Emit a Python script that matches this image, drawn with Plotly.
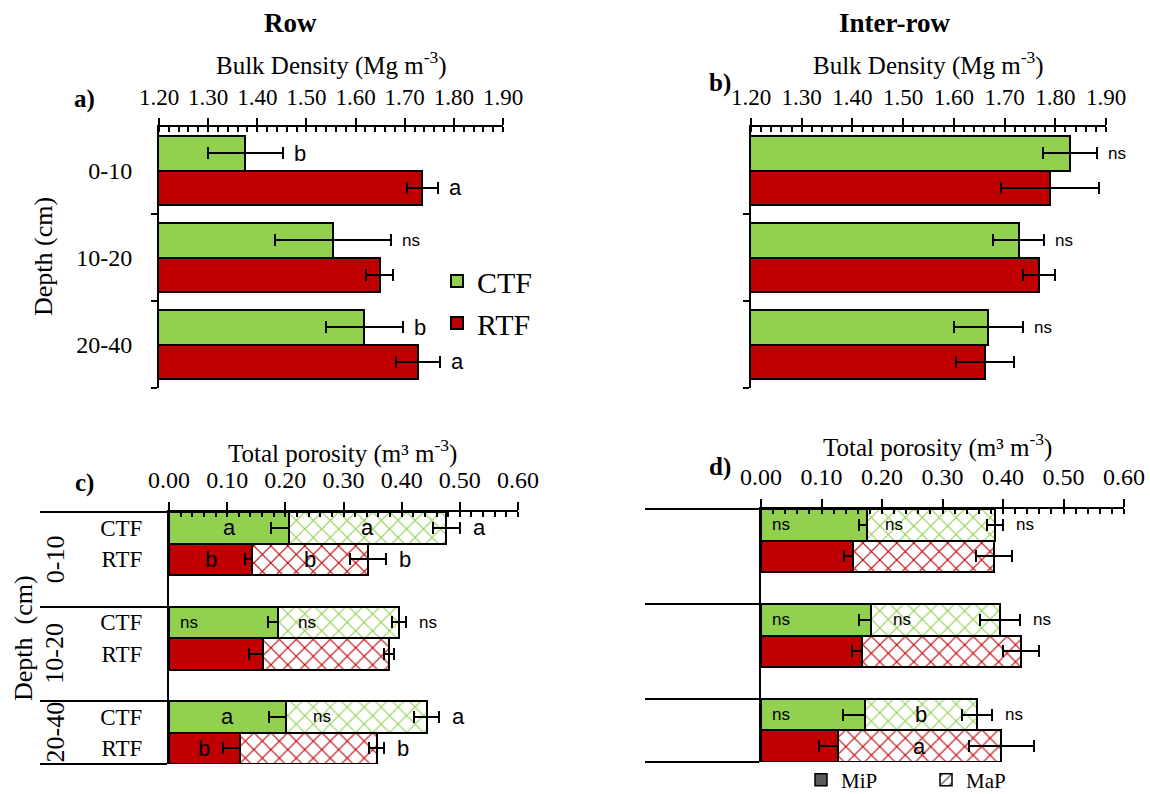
import plotly.graph_objects as go

W, H = 1150, 794
SERIF = "Liberation Serif"
SANS = "Liberation Sans"
GREEN = "#92D050"
RED = "#C00000"

depths = ["0-10", "10-20", "20-40"]
systems = ["CTF", "RTF"]

# Bulk density (Mg m-3), row position
bd_row_ctf = [1.376, 1.555, 1.618]
bd_row_ctf_err = [0.077, 0.118, 0.079]
bd_row_rtf = [1.736, 1.649, 1.727]
bd_row_rtf_err = [0.032, 0.028, 0.044]
bd_row_ctf_lbl = ["b", "ns", "b"]
bd_row_rtf_lbl = ["a", "", "a"]

# Bulk density (Mg m-3), inter-row position
bd_int_ctf = [1.829, 1.728, 1.668]
bd_int_ctf_err = [0.054, 0.050, 0.068]
bd_int_rtf = [1.789, 1.768, 1.661]
bd_int_rtf_err = [0.097, 0.031, 0.057]
bd_int_ctf_lbl = ["ns", "ns", "ns"]
bd_int_rtf_lbl = ["", "", ""]

# Porosity (m3 m-3), row position: micropores (MiP) and macropores (MaP)
tp_row_ctf_mip = [0.207, 0.188, 0.201]
tp_row_ctf_mip_err = [0.031, 0.017, 0.029]
tp_row_ctf_map = [0.270, 0.207, 0.242]
tp_row_ctf_tot_err = [0.024, 0.012, 0.022]
tp_row_rtf_mip = [0.143, 0.161, 0.122]
tp_row_rtf_mip_err = [0.013, 0.023, 0.029]
tp_row_rtf_map = [0.199, 0.217, 0.235]
tp_row_rtf_tot_err = [0.031, 0.009, 0.013]
tp_row_ctf_lbl = (["a", "ns", "a"], ["a", "ns", "ns"], ["a", "ns", "a"])
tp_row_rtf_lbl = (["b", "", "b"], ["b", "", ""], ["b", "", "b"])

# Porosity (m3 m-3), inter-row position
tp_int_ctf_mip = [0.175, 0.182, 0.172]
tp_int_ctf_mip_err = [0.013, 0.020, 0.036]
tp_int_ctf_map = [0.212, 0.213, 0.185]
tp_int_ctf_tot_err = [0.013, 0.033, 0.024]
tp_int_rtf_mip = [0.152, 0.167, 0.127]
tp_int_rtf_mip_err = [0.015, 0.017, 0.031]
tp_int_rtf_map = [0.233, 0.263, 0.270]
tp_int_rtf_tot_err = [0.030, 0.030, 0.054]
tp_int_ctf_lbl = (["ns", "ns", "ns"], ["ns", "ns", "b"], ["ns", "ns", "ns"])
tp_int_rtf_lbl = (["", "", ""], ["", "", "a"], ["", "", ""])


def px(x):
    return x / W


def py(y):
    return 1 - y / H


# bar slots: bulk density panels use one unit per depth, porosity panels
# use three units per depth (two bars plus a gap; last group without gap)
bd_pos = {"CTF": [k - 0.2 for k in range(3)], "RTF": [k + 0.2 for k in range(3)]}
tp_bounds = [0, 3, 6, 8]
tp_pos = {"CTF": [3 * k + 0.5 for k in range(3)], "RTF": [3 * k + 1.5 for k in range(3)]}

fig = go.Figure()
ann = []


def err(arr):
    return dict(type="data", array=arr, color="black", thickness=2, width=6)


def letter(text, x, y, xr, yr, anchor="left", shift=0):
    if not text:
        return
    size = 17 if text == "ns" else 22
    ann.append(dict(text=text, x=x, y=y, xref=xr, yref=yr, xanchor=anchor,
                    yanchor="middle", xshift=shift, showarrow=False,
                    font=dict(family=SANS, size=size, color="black")))


def bd_panel(ax, ctf, ctf_e, rtf, rtf_e, ctf_l, rtf_l, legend):
    xa, ya = ("x", "y") if ax == 1 else (f"x{ax}", f"y{ax}")
    for name, vals, errs, lbls, col in (("CTF", ctf, ctf_e, ctf_l, GREEN),
                                        ("RTF", rtf, rtf_e, rtf_l, RED)):
        fig.add_trace(go.Bar(
            x=vals, y=bd_pos[name], orientation="h", width=0.4, name=name,
            marker=dict(color=col, line=dict(color="black", width=2)),
            error_x=err(errs), xaxis=xa, yaxis=ya, showlegend=legend,
            legend="legend"))
        for v, e, p, l in zip(vals, errs, bd_pos[name], lbls):
            letter(l, v + e, p, xa, ya, shift=9)


def tp_panel(ax, cmip, cmip_e, cmap, ctot_e, rmip, rmip_e, rmap, rtot_e, clbl, rlbl):
    xa, ya = f"x{ax}", f"y{ax}"
    for name, mip, mip_e, mapv, tot_e, lbl, col in (
            ("CTF", cmip, cmip_e, cmap, ctot_e, clbl, GREEN),
            ("RTF", rmip, rmip_e, rmap, rtot_e, rlbl, RED)):
        pos = tp_pos[name]
        fig.add_trace(go.Bar(
            x=mip, y=pos, orientation="h", width=1, name=name + " MiP",
            marker=dict(color=col, line=dict(color="black", width=2)),
            error_x=err(mip_e), xaxis=xa, yaxis=ya, showlegend=False))
        fig.add_trace(go.Bar(
            x=mapv, y=pos, orientation="h", width=1, name=name + " MaP",
            marker=dict(color="white", line=dict(color="black", width=2),
                        pattern=dict(shape="x", fgcolor=col, bgcolor="white",
                                     size=12, solidity=0.18)),
            error_x=err(tot_e), xaxis=xa, yaxis=ya, showlegend=False))
        l_mip, l_map, l_tot = lbl
        for i in range(3):
            m, a, p = mip[i], mapv[i], pos[i]
            if l_mip[i] == "ns":
                letter("ns", 0, p, xa, ya, shift=9)
            else:
                letter(l_mip[i], m / 2, p, xa, ya, anchor="center")
            if l_map[i] == "ns":
                letter("ns", m + mip_e[i], p, xa, ya, shift=8)
            else:
                letter(l_map[i], m + a / 2, p, xa, ya, anchor="center")
            letter(l_tot[i], m + a + tot_e[i], p, xa, ya, shift=11)


bd_panel(1, bd_row_ctf, bd_row_ctf_err, bd_row_rtf, bd_row_rtf_err,
         bd_row_ctf_lbl, bd_row_rtf_lbl, True)
bd_panel(2, bd_int_ctf, bd_int_ctf_err, bd_int_rtf, bd_int_rtf_err,
         bd_int_ctf_lbl, bd_int_rtf_lbl, False)
tp_panel(3, tp_row_ctf_mip, tp_row_ctf_mip_err, tp_row_ctf_map, tp_row_ctf_tot_err,
         tp_row_rtf_mip, tp_row_rtf_mip_err, tp_row_rtf_map, tp_row_rtf_tot_err,
         tp_row_ctf_lbl, tp_row_rtf_lbl)
tp_panel(4, tp_int_ctf_mip, tp_int_ctf_mip_err, tp_int_ctf_map, tp_int_ctf_tot_err,
         tp_int_rtf_mip, tp_int_rtf_mip_err, tp_int_rtf_map, tp_int_rtf_tot_err,
         tp_int_ctf_lbl, tp_int_rtf_lbl)

# pore-class key
fig.add_trace(go.Bar(x=[None], y=[None], orientation="h", name="MiP",
                     marker=dict(color="#5a5a5a", line=dict(color="black", width=1.5)),
                     xaxis="x4", yaxis="y4", legend="legend2"))
fig.add_trace(go.Bar(x=[None], y=[None], orientation="h", name="MaP",
                     marker=dict(color="white", line=dict(color="black", width=1.5),
                                 pattern=dict(shape="/", fgcolor="#5a5a5a",
                                              bgcolor="white", size=8, solidity=0.2)),
                     xaxis="x4", yaxis="y4", legend="legend2"))


def xaxis(dom, rng, size, ticklen):
    return dict(domain=[px(dom[0]), px(dom[1])], range=rng, side="top",
                automargin=False,
                tickmode="linear", tick0=rng[0], dtick=0.1, tickformat=".2f",
                showline=True, linecolor="black", linewidth=2,
                ticks="outside", ticklen=ticklen, tickwidth=1.5, tickcolor="black",
                ticklabelstandoff=4,
                minor=dict(dtick=0.02, ticks="inside", ticklen=5, tickwidth=1.5,
                           tickcolor="black", showgrid=False),
                showgrid=False, zeroline=False,
                tickfont=dict(family=SERIF, size=size, color="black"))


def yaxis(dom, rng, tickvals, ticktext, minor_vals, minor_len, show, size):
    return dict(domain=[py(dom[1]), py(dom[0])], range=rng, automargin=False,
                tickmode="array", tickvals=tickvals, ticktext=ticktext,
                ticks="", showticklabels=show, ticklabelstandoff=20,
                showline=True, linecolor="black", linewidth=2,
                minor=dict(tickmode="array", tickvals=minor_vals, ticks="outside",
                           ticklen=minor_len, tickwidth=2, tickcolor="black",
                           showgrid=False),
                showgrid=False, zeroline=False,
                tickfont=dict(family=SERIF, size=size, color="black"))


tp_ticks = [p for k in range(3) for p in (tp_pos["CTF"][k], tp_pos["RTF"][k])]
tp_text = [s for _ in depths for s in systems]

fig.update_layout(
    template="none",
    width=W, height=H, margin=dict(l=0, r=0, t=0, b=0, pad=0, autoexpand=False),
    paper_bgcolor="white", plot_bgcolor="rgba(0,0,0,0)",
    barmode="stack", font=dict(family=SERIF, color="black"),
    xaxis=dict(xaxis((159, 503), [1.2, 1.9], 23, 7), anchor="y"),
    yaxis=dict(yaxis((127, 388), [2.5, -0.5], [0, 1, 2], depths,
                     [0.5, 1.5, 2.5], 6, True, 24), anchor="x"),
    xaxis2=dict(xaxis((751, 1106), [1.2, 1.9], 23, 7), anchor="y2"),
    yaxis2=dict(yaxis((127, 388), [2.5, -0.5], [0, 1, 2], depths,
                      [0.5, 1.5, 2.5], 6, False, 24), anchor="x2"),
    xaxis3=dict(xaxis((169, 518), [0, 0.6], 24, 8), anchor="y3"),
    yaxis3=dict(yaxis((512, 764), [8, 0], tp_ticks, tp_text,
                      tp_bounds, 127, True, 23), anchor="x3"),
    xaxis4=dict(xaxis((761, 1124), [0, 0.6], 24, 8), anchor="y4"),
    yaxis4=dict(yaxis((509, 762), [8, 0], tp_ticks, tp_text,
                      tp_bounds, 114, False, 23), anchor="x4"),
    showlegend=True,
    legend=dict(x=px(437), y=py(302), xanchor="left", yanchor="middle",
                font=dict(family=SERIF, size=30, color="black"),
                bgcolor="rgba(0,0,0,0)", traceorder="normal"),
    legend2=dict(orientation="h", x=px(801), y=py(780), xanchor="left",
                 yanchor="middle", font=dict(family=SERIF, size=21, color="black"),
                 bgcolor="rgba(0,0,0,0)", traceorder="normal",
                 entrywidth=80, entrywidthmode="pixels"),
)


def text(t, x, y, size, bold=False, angle=0):
    ann.append(dict(text=f"<b>{t}</b>" if bold else t, x=px(x), y=py(y),
                    xref="paper", yref="paper", xanchor="center", yanchor="middle",
                    showarrow=False, textangle=angle,
                    font=dict(family=SERIF, size=size, color="black")))


text("Row", 290, 23, 27, bold=True)
text("Inter-row", 894, 23, 27, bold=True)
text("Bulk Density (Mg m<sup>-3</sup>)", 331, 63, 25)
text("Bulk Density (Mg m<sup>-3</sup>)", 928, 63, 25)
text("Total porosity (m³ m<sup>-3</sup>)", 342, 452, 25)
text("Total porosity (m³ m<sup>-3</sup>)", 937, 445, 25)
text("a)", 84, 99, 25, bold=True)
text("b)", 720, 83, 25, bold=True)
text("c)", 84, 483, 25, bold=True)
text("d)", 720, 467, 25, bold=True)
text("Depth (cm)", 43, 257, 26, angle=-90)
text("Depth  (cm)", 23, 638, 26, angle=-90)

for k, d in enumerate(depths):
    ann.append(dict(text=d, x=px(55), y=(tp_bounds[k] + tp_bounds[k + 1]) / 2,
                    xref="paper", yref="y3", xanchor="center", yanchor="middle",
                    showarrow=False, textangle=-90,
                    font=dict(family=SERIF, size=26, color="black")))

fig.update_layout(annotations=ann)
fig.write_html("out.html")
